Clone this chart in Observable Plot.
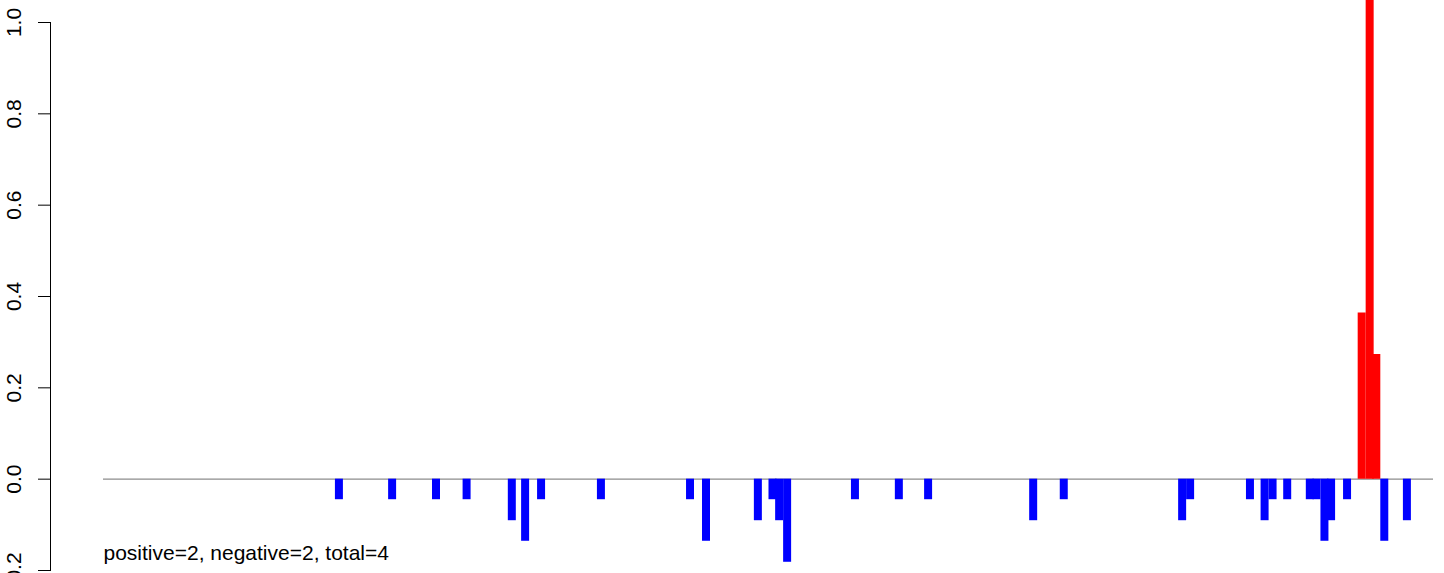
<!DOCTYPE html>
<html><head><meta charset="utf-8">
<script src="https://cdn.jsdelivr.net/npm/d3@7"></script>
<script src="https://cdn.jsdelivr.net/npm/@observablehq/plot@0.6"></script>
<style>html,body{margin:0;padding:0;background:#fff;overflow:hidden}</style>
</head><body><div id="chart"></div>
<script>
// Positions along the x axis (arbitrary index units, 0..1000)
const positions = [177,217,250,273,307,317,329,374,441,453,492,503,508,514,565,598,620,699,722,811,817,862,873,879,890,907,912,918,923,935,946,952,957,963,980];
// Bar heights
const values = [-0.045,-0.045,-0.045,-0.045,-0.091,-0.136,-0.045,-0.045,-0.045,-0.136,-0.091,-0.045,-0.091,-0.182,-0.045,-0.045,-0.045,-0.091,-0.045,-0.091,-0.045,-0.045,-0.091,-0.045,-0.045,-0.045,-0.045,-0.136,-0.091,-0.045,0.364,1.1,0.273,-0.136,-0.091];
const yTicks = [-0.2, 0, 0.2, 0.4, 0.6, 0.8, 1.0];
const xDomain = [0, 1000];
const summaryLabel = "positive=2, negative=2, total=4";

const data = positions.map((p, i) => ({pos: p, value: values[i]}));

const chart = Plot.plot({
  width: 1444, height: 573,
  marginLeft: 50, marginRight: 11, marginTop: 22, marginBottom: 3,
  style: {fontFamily: "'Liberation Sans', Arial, Helvetica, sans-serif", fontSize: "21px", background: "#fff", color: "#000"},
  x: {domain: xDomain, range: [103, 1433], axis: null},
  y: {domain: [-0.2, 1.0]},
  color: {type: "identity"},
  marks: [
    Plot.frame({anchor: "left", stroke: "#000"}),
    Plot.axisY({ticks: yTicks, anchor: "left", tickSize: 12, tickPadding: 18, tickRotate: -90, tickFormat: d => d.toFixed(1), fontSize: 21, label: null}),
    Plot.ruleY([0], {x1: xDomain[0], x2: xDomain[1], stroke: "#8c8c8c", strokeWidth: 1.2}),
    Plot.ruleX(data, {x: "pos", y1: 0, y2: "value", stroke: d => d.value > 0 ? "#ff0000" : "#0000ff", strokeWidth: 8}),
    Plot.text([summaryLabel], {x: xDomain[0], frameAnchor: "bottom", dy: -11, text: d => d, textAnchor: "start", lineAnchor: "bottom", fontSize: 21, fill: "#000"})
  ]
});
document.getElementById("chart").appendChild(chart);
</script>
</body></html>
